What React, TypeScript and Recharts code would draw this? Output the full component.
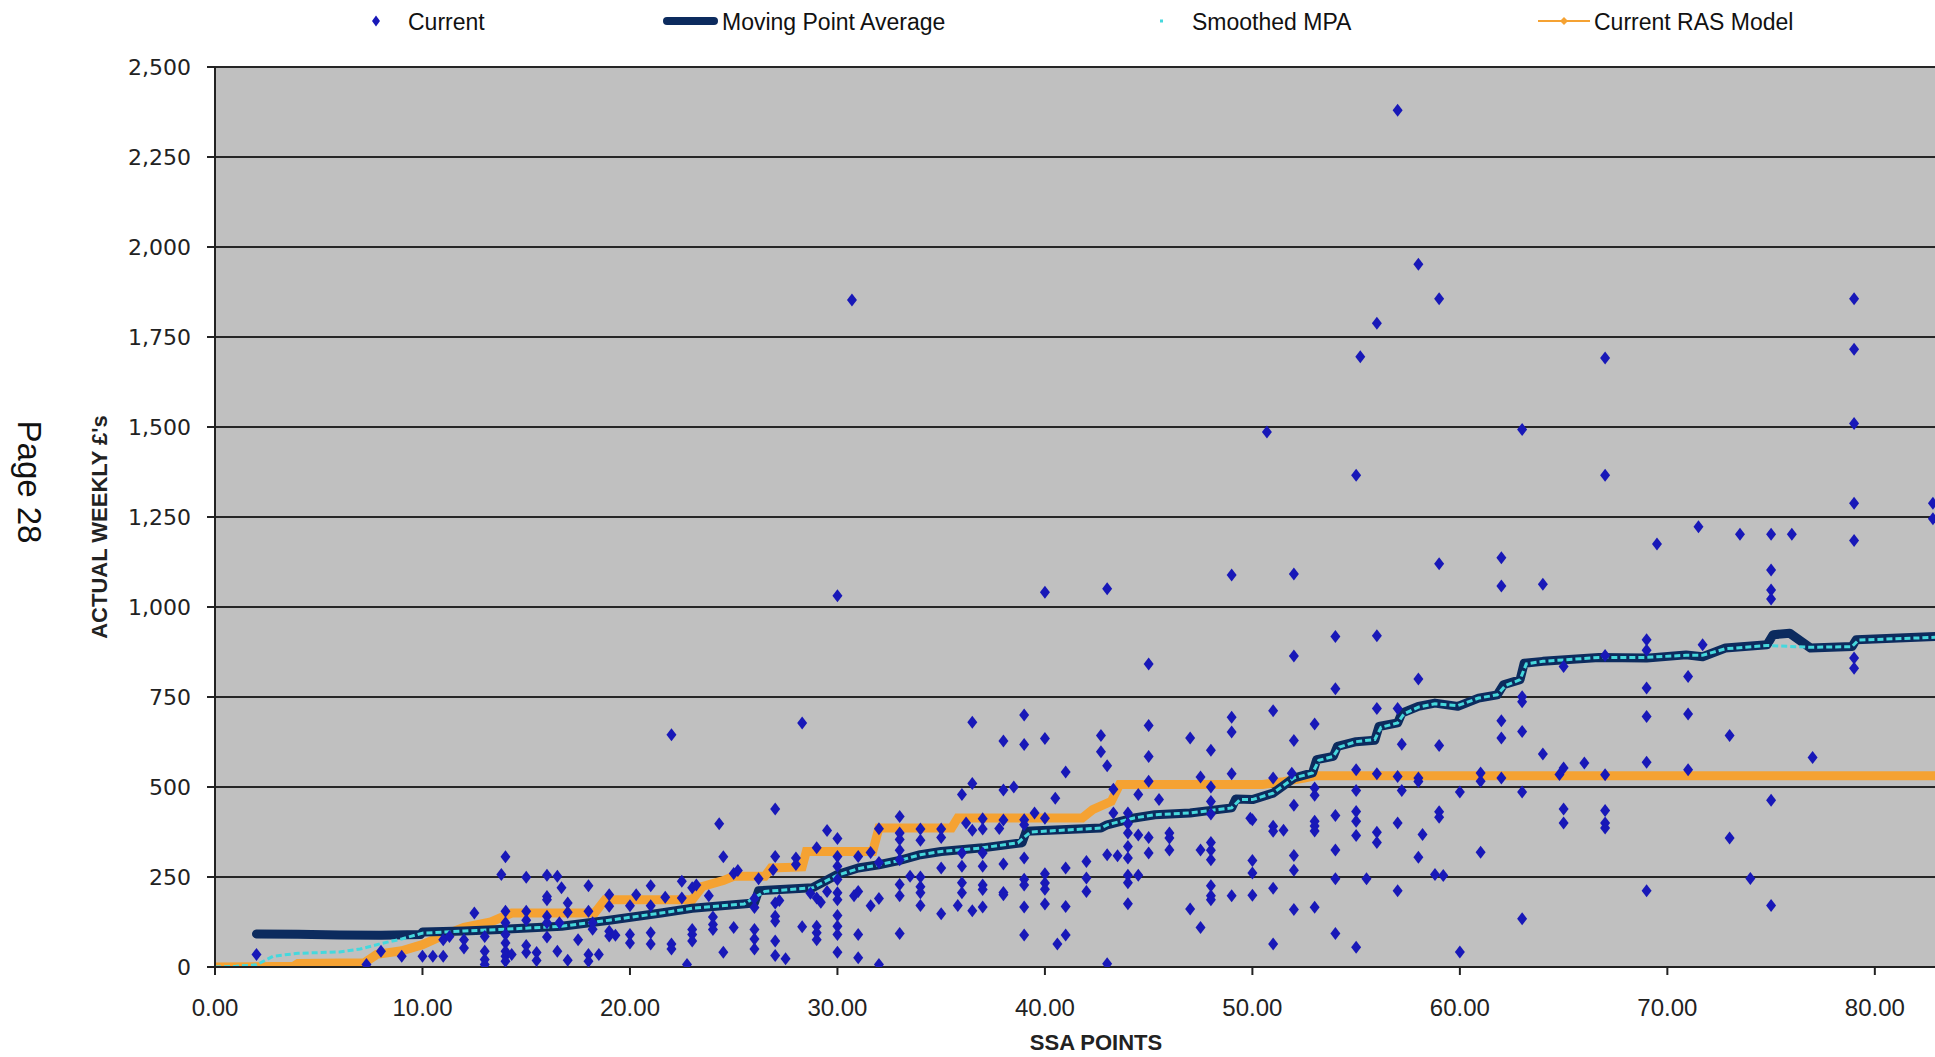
import React from 'react';
import { ComposedChart, XAxis, YAxis, CartesianGrid, Line, Scatter, Label } from 'recharts';

// ---------- data ----------
const xTicks = [0, 10, 20, 30, 40, 50, 60, 70, 80];
const yTicks = [0, 250, 500, 750, 1000, 1250, 1500, 1750, 2000, 2250, 2500];

// Current: [SSA points, actual weekly £]
const currentPoints: [number, number][] = [
  [2, 35], [7.3, 7], [8, 44], [9, 30], [10, 30], [10.5, 30], [11, 76], [11.3, 85], [11, 30], [12, 76], [12, 53], [12.5, 150],
  [13, 85], [13, 44], [13, 21], [13, 7], [13.8, 257], [14, 306], [14, 155], [14, 123], [14, 90], [14, 67], [14, 44], [14, 30], [14, 16], [14.3, 35],
  [15, 249], [15, 155], [15, 130], [15, 60], [15, 40], [15.5, 40], [15.5, 18],
  [16, 255], [16, 196], [16, 187], [16, 141], [16, 123], [16, 83], [16.5, 252], [16.5, 44], [16.7, 220], [16.6, 123],
  [17, 178], [17, 152], [17, 19], [17.5, 76], [18, 226], [18, 155], [18, 35], [18, 16], [18.2, 123], [18.2, 105], [18.5, 35],
  [19, 201], [19, 169], [19, 99], [19, 86], [19.3, 88], [20, 170], [20, 90], [20, 67], [20.3, 201],
  [21, 226], [21, 170], [21, 95], [21, 64], [21.7, 194], [22, 645], [22, 64], [22, 50], [22.5, 238], [22.5, 192], [22.75, 7],
  [23, 220], [23, 104], [23, 90], [23, 72], [23.2, 228], [23.8, 198], [24, 139], [24, 118], [24, 104], [24.3, 398], [24.5, 306], [24.5, 41],
  [25, 260], [25, 110], [25.2, 268], [26, 190], [26, 165], [26, 104], [26, 78], [26, 50], [26.2, 245],
  [26.9, 270], [27, 439], [27, 307], [27, 178], [27, 141], [27, 127], [27, 72], [27, 32], [27.2, 185], [27.5, 23],
  [28, 303], [28, 285], [28.3, 678], [28.3, 112], [28.7, 205], [29, 331], [29, 192], [29, 113], [29, 95], [29, 76], [29.2, 180], [29.5, 379], [29.5, 210],
  [30, 1031], [30, 357], [30, 307], [30, 280], [30, 243], [30, 206], [30, 187], [30, 143], [30, 113], [30, 90], [30, 41], [30.7, 1853], [30.8, 198],
  [31, 307], [31, 210], [31, 90], [31, 26], [31.6, 318], [31.6, 170], [32, 384], [32, 290], [32, 190], [32, 7],
  [33, 418], [33, 372], [33, 354], [33, 324], [33, 298], [33, 229], [33, 198], [33, 93], [33.5, 252],
  [34, 383], [34, 352], [34, 250], [34, 223], [34, 206], [34, 171], [35, 383], [35, 360], [35, 275], [35, 148], [35.8, 171],
  [36, 479], [36, 317], [36, 280], [36, 234], [36, 206], [36.2, 400], [36.5, 680], [36.5, 510], [36.5, 380], [36.5, 156],
  [37, 412], [37, 383], [37, 317], [37, 280], [37, 228], [37, 215], [37, 167], [37.8, 385],
  [38, 628], [38, 492], [38, 408], [38, 286], [38, 207], [38, 201], [38.5, 500],
  [39, 700], [39, 618], [39, 409], [39, 395], [39, 303], [39, 244], [39, 228], [39, 167], [39, 89], [39.5, 428],
  [40, 1041], [40, 635], [40, 413], [40, 259], [40, 233], [40, 216], [40, 175], [40.5, 469], [40.6, 64],
  [41, 542], [41, 275], [41, 168], [41, 89], [42, 293], [42, 247], [42, 210], [42.7, 643], [42.7, 598],
  [43, 1051], [43, 559], [43, 312], [43, 9], [43.3, 494], [43.3, 428], [43.5, 309],
  [44, 428], [44, 398], [44, 372], [44, 335], [44, 303], [44, 255], [44, 234], [44, 176], [44.5, 479], [44.5, 367], [44.5, 255],
  [45, 842], [45, 671], [45, 585], [45, 516], [45, 360], [45, 317], [45.5, 465], [46, 372], [46, 358], [46, 325],
  [47, 636], [47, 161], [47.5, 528], [47.5, 325], [47.5, 110],
  [48, 602], [48, 500], [48, 460], [48, 425], [48, 346], [48, 324], [48, 298], [48, 226], [48, 198], [48, 187],
  [49, 1089], [49, 694], [49, 653], [49, 537], [49, 198], [49.9, 413],
  [50, 409], [50, 296], [50, 261], [50, 199], [50.7, 1486],
  [51, 712], [51, 525], [51, 391], [51, 377], [51, 219], [51, 64], [51.5, 380], [51.9, 538],
  [52, 1092], [52, 864], [52, 629], [52, 449], [52, 310], [52, 269], [52, 160],
  [53, 675], [53, 497], [53, 477], [53, 405], [53, 392], [53, 378], [53, 166],
  [54, 918], [54, 773], [54, 421], [54, 325], [54, 245], [54, 93],
  [55, 1366], [55.2, 1695], [55, 548], [55, 490], [55, 432], [55, 405], [55, 365], [55, 55], [55.5, 245],
  [56, 1788], [56, 920], [56, 718], [56, 537], [56, 374], [56, 346],
  [57, 2380], [57, 718], [57, 529], [57, 400], [57, 212], [57.2, 619], [57.2, 490],
  [58, 1952], [58, 800], [58, 525], [58, 515], [58, 305], [58.2, 368], [58.8, 257],
  [59, 1856], [59, 1120], [59, 615], [59, 431], [59, 416], [59.2, 254], [60, 486], [60, 42],
  [61, 539], [61, 516], [61, 319], [62, 1137], [62, 1058], [62, 684], [62, 636], [62, 525],
  [63, 1493], [63, 751], [63, 737], [63, 654], [63, 486], [63, 134], [64, 1063], [64, 592], [64.8, 535],
  [65, 835], [65, 553], [65, 439], [65, 400], [66, 567],
  [67, 1692], [67, 1366], [67, 865], [67, 534], [67, 435], [67, 400], [67, 386],
  [69, 909], [69, 880], [69, 775], [69, 696], [69, 569], [69, 212], [69.5, 1175],
  [71, 807], [71, 703], [71, 548], [71.5, 1223], [71.7, 895], [73, 643], [73, 358], [73.5, 1202], [74, 246],
  [75, 1202], [75, 1103], [75, 1047], [75, 1022], [75, 463], [75, 171], [76, 1202], [77, 582],
  [79, 1856], [79, 1716], [79, 1510], [79, 1288], [79, 1185], [79, 858], [79, 830], [82.8, 1288], [82.8, 1245],
];

// Moving Point Average
const mpaPoints: [number, number][] = [
  [2, 92], [4, 91], [6, 89], [8, 88], [9.9, 90], [10, 97], [12, 100], [14, 105], [16.7, 113], [19, 130], [21.5, 150], [23, 163],
  [26, 178], [26.2, 212], [28.8, 220], [30, 257], [31, 275], [32, 284], [33, 296], [34, 312], [35, 321], [37, 331], [38.9, 345],
  [39.1, 377], [42.7, 386], [43, 395], [44.3, 414], [45.3, 423], [47, 428], [48, 435], [49, 442], [49.2, 467], [50, 465],
  [51, 483], [52, 525], [52.9, 539], [53.1, 576], [53.9, 585], [54.1, 613], [55, 626], [55.9, 630], [56.1, 668], [57, 678],
  [57.2, 705], [58, 724], [58.8, 733], [59.9, 724], [60.9, 747], [61.8, 756], [62.1, 784], [62.9, 798], [63.1, 844], [64, 849],
  [66.7, 860], [69, 858], [70.9, 867], [71.7, 862], [72.8, 886], [74.8, 895], [75.1, 923], [75.9, 927], [76.9, 886], [78.9, 890],
  [79.1, 909], [83, 918],
];

// Smoothed MPA
const smoothedPoints: [number, number][] = [
  [0, 0], [1, 2], [2, 6], [2.8, 30], [4, 38], [6, 42], [7, 50], [8, 65], [9, 78], [10, 94], [12, 100], [14, 105], [16.7, 113],
  [19, 130], [21.5, 150], [23, 163], [25.5, 175], [26.5, 210], [28.8, 220], [30, 255], [31, 273], [32, 284], [33, 296], [34, 312],
  [35, 321], [37, 331], [38.7, 345], [39.3, 375], [42.7, 386], [43, 395], [44.3, 414], [45.3, 423], [47, 428], [48, 435], [49, 442],
  [49.4, 465], [50, 465], [51, 483], [52, 525], [52.9, 539], [53.2, 574], [53.9, 585], [54.2, 611], [55, 626], [55.9, 632],
  [56.2, 666], [57, 678], [57.3, 703], [58, 722], [58.8, 731], [59.9, 726], [60.9, 747], [61.8, 756], [62.2, 782], [62.9, 798],
  [63.2, 842], [64, 849], [66.7, 860], [69, 860], [70.9, 866], [71.7, 866], [72.8, 884], [74.8, 893], [76.9, 888], [78.9, 890],
  [79.2, 908], [83, 916],
];

// Current RAS Model
const rasPoints: [number, number][] = [
  [0, 0], [3.8, 2], [4, 10], [7.2, 12], [7.8, 35], [9, 45], [10, 62], [11, 88], [12, 110], [13.3, 125], [14.3, 150], [18.3, 150],
  [18.8, 187], [23, 187], [23.5, 224], [24.5, 240], [25, 252], [26.5, 252], [26.8, 275], [28.3, 278], [28.5, 321], [31.7, 321],
  [32, 386], [35.5, 386], [35.8, 414], [41.8, 414], [42.3, 437], [43.2, 460], [43.6, 507], [50.5, 507], [51.5, 515], [52.5, 525],
  [53, 531], [83, 531],
];

// ---------- layout constants ----------
const CHART_W = 1935;
const CHART_H = 1057;
const PLOT_LEFT = 215;
const PLOT_TOP = 67;
const X_AXIS_H = 90;
const PLOT_BOTTOM = CHART_H - X_AXIS_H;

const COL_CURRENT = '#1818B8';
const COL_MPA = '#0C2B5E';
const COL_SMOOTH = '#45D8DD';
const COL_RAS = '#F5A232';
const SANS = '"Liberation Sans", Arial, sans-serif';

const toObj = (pts: [number, number][]) => pts.map(([x, y]) => ({ x, y }));
const currentData = toObj(currentPoints);
const mpaData = toObj(mpaPoints);
const smoothedData = toObj(smoothedPoints);
const rasData = toObj(rasPoints);

const Diamond = (props: any) => {
  const { cx, cy } = props;
  if (cx == null || cy == null || isNaN(cx) || isNaN(cy)) return null;
  return <path d={`M${cx},${cy - 6.5}L${cx + 5},${cy}L${cx},${cy + 6.5}L${cx - 5},${cy}Z`} fill={COL_CURRENT} />;
};

const XTitle = () => (
  <text
    x={PLOT_LEFT + (CHART_W - PLOT_LEFT) / 2 + 21}
    y={CHART_H - 7}
    textAnchor="middle"
    fontFamily={SANS}
    fontWeight="bold"
    fontSize={22}
    fill="#222"
  >
    SSA POINTS
  </text>
);

const YTitle = () => {
  const cx = 107;
  const cy = (PLOT_TOP + PLOT_BOTTOM) / 2 + 10;
  return (
    <text
      x={cx}
      y={cy}
      transform={`rotate(-90, ${cx}, ${cy})`}
      textAnchor="middle"
      fontFamily={SANS}
      fontWeight="bold"
      fontSize={22}
      fill="#222"
    >
      ACTUAL WEEKLY £'s
    </text>
  );
};

const LegendOverlay = () => (
  <svg width={CHART_W} height={45} style={{ position: 'absolute', left: 0, top: 0 }}>
    <path d="M376,15.5L380,21L376,26.5L372,21Z" fill={COL_CURRENT} />
    <text x={408} y={30} fontFamily={SANS} fontSize={23} fill="#111">Current</text>
    <line x1={667} x2={714} y1={21} y2={21} stroke={COL_MPA} strokeWidth={8} strokeLinecap="round" />
    <text x={722} y={30} fontFamily={SANS} fontSize={23} fill="#111">Moving Point Average</text>
    <rect x={1160} y={19.5} width={3} height={3} fill={COL_SMOOTH} />
    <text x={1192} y={30} fontFamily={SANS} fontSize={23} fill="#111">Smoothed MPA</text>
    <line x1={1538} x2={1590} y1={21} y2={21} stroke={COL_RAS} strokeWidth={2} />
    <path d="M1564,17L1568,21L1564,25L1560,21Z" fill={COL_RAS} />
    <text x={1594} y={30} fontFamily={SANS} fontSize={23} fill="#111">Current RAS Model</text>
  </svg>
);

export default function App() {
  return (
    <div style={{ position: 'absolute', left: 0, top: 0, width: CHART_W, height: CHART_H, overflow: 'hidden', background: '#fff' }}>
      <ComposedChart
        width={CHART_W}
        height={CHART_H}
        margin={{ top: PLOT_TOP, right: 0, bottom: 0, left: 0 }}
      >
        <CartesianGrid vertical={false} stroke="#262626" strokeWidth={2} fill="#C0C0C0" fillOpacity={1} />
        <XAxis
          type="number"
          dataKey="x"
          domain={[0, 82.9]}
          allowDataOverflow
          ticks={xTicks}
          interval={0}
          tickFormatter={(v: number) => v.toFixed(2)}
          height={X_AXIS_H}
          tickSize={8}
          tickMargin={24}
          axisLine={{ stroke: '#222', strokeWidth: 2 }}
          tickLine={{ stroke: '#222', strokeWidth: 2 }}
          tick={{ fontSize: 24, fontFamily: SANS, fill: '#222' }}
        >
          <Label content={XTitle} />
        </XAxis>
        <YAxis
          type="number"
          dataKey="y"
          domain={[0, 2500]}
          allowDataOverflow
          ticks={yTicks}
          interval={0}
          tickFormatter={(v: number) => v.toLocaleString('en-US')}
          width={PLOT_LEFT}
          tickSize={8}
          tickMargin={16}
          axisLine={{ stroke: '#222', strokeWidth: 2 }}
          tickLine={{ stroke: '#222', strokeWidth: 2 }}
          tick={{ fontSize: 22, fontFamily: '"DejaVu Sans", sans-serif', fill: '#222' }}
        >
          <Label content={YTitle} />
        </YAxis>
        <Line
          data={rasData}
          dataKey="y"
          name="Current RAS Model"
          type="linear"
          stroke={COL_RAS}
          strokeWidth={9}
          dot={false}
          activeDot={false}
          isAnimationActive={false}
        />
        <Line
          data={mpaData}
          dataKey="y"
          name="Moving Point Average"
          type="linear"
          stroke={COL_MPA}
          strokeWidth={9}
          strokeLinecap="round"
          strokeLinejoin="round"
          dot={false}
          activeDot={false}
          isAnimationActive={false}
        />
        <Line
          data={smoothedData}
          dataKey="y"
          name="Smoothed MPA"
          type="linear"
          stroke={COL_SMOOTH}
          strokeWidth={3}
          strokeDasharray="6 3"
          dot={false}
          activeDot={false}
          isAnimationActive={false}
        />
        <Scatter
          data={currentData}
          dataKey="y"
          name="Current"
          fill={COL_CURRENT}
          shape={Diamond}
          isAnimationActive={false}
        />
      </ComposedChart>
      <LegendOverlay />
      <div
        style={{
          position: 'absolute',
          left: 29,
          top: 482,
          transform: 'translate(-50%, -50%) rotate(90deg)',
          fontFamily: SANS,
          fontSize: 33,
          lineHeight: 1,
          whiteSpace: 'nowrap',
          color: '#111',
        }}
      >
        Page 28
      </div>
    </div>
  );
}
